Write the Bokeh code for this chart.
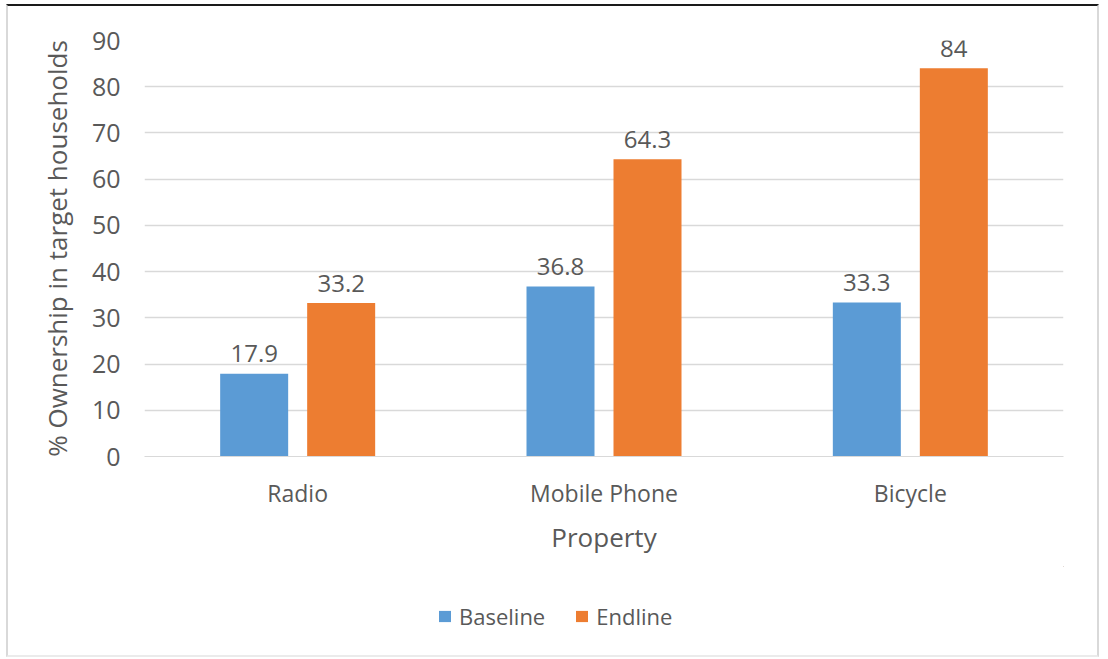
from bokeh.plotting import figure
from bokeh.models import ColumnDataSource, FactorRange, SingleIntervalTicker, Legend, LegendItem, Range1d
from bokeh.layouts import column
from bokeh.transform import dodge
from bokeh.core.properties import value
from bokeh.embed import file_html
from bokeh.resources import INLINE

categories = ["Radio", "Mobile Phone", "Bicycle"]
baseline = [17.9, 36.8, 33.3]
endline = [33.2, 64.3, 84]
series_names = ["Baseline", "Endline"]
colors = ["#5b9bd5", "#ed7d31"]

src = ColumnDataSource(dict(
    cat=categories,
    baseline=baseline,
    endline=endline,
    baseline_lbl=[f"{v:g}" for v in baseline],
    endline_lbl=[f"{v:g}" for v in endline],
))

FONT = "Open Sans"
GREY = "#595959"

p = figure(
    x_range=FactorRange(*categories, range_padding=0),
    y_range=Range1d(0, 90),
    width=1089, height=560,
    output_backend="svg", toolbar_location=None,
    min_border_left=136, min_border_right=34, min_border_top=34, min_border_bottom=110,
)
p.outline_line_color = None
p.background_fill_color = "white"
p.border_fill_color = "white"

off = 0.142
bw = 0.222
r1 = p.vbar(x=dodge("cat", -off, range=p.x_range), top="baseline", width=bw, source=src,
            fill_color=colors[0], line_color=None)
r2 = p.vbar(x=dodge("cat", off, range=p.x_range), top="endline", width=bw, source=src,
            fill_color=colors[1], line_color=None)

p.text(x=dodge("cat", -off, range=p.x_range), y="baseline", text="baseline_lbl", source=src,
       text_font=value(FONT), text_font_size="24px", text_color=GREY,
       text_align="center", text_baseline="alphabetic", y_offset=-20)
p.text(x=dodge("cat", off, range=p.x_range), y="endline", text="endline_lbl", source=src,
       text_font=value(FONT), text_font_size="24px", text_color=GREY,
       text_align="center", text_baseline="alphabetic", y_offset=-20)

# grid
p.xgrid.grid_line_color = None
p.ygrid.grid_line_color = "#d9d9d9"
p.ygrid.grid_line_width = 1.5
p.yaxis.ticker = SingleIntervalTicker(interval=10)

# axes
for ax in (p.xaxis[0], p.yaxis[0]):
    ax.axis_line_color = None
    ax.major_tick_line_color = None
    ax.minor_tick_line_color = None
    ax.major_label_text_font = FONT
    ax.major_label_text_color = GREY
    ax.axis_label_text_font = FONT
    ax.axis_label_text_color = GREY
    ax.axis_label_text_font_style = "normal"

p.xaxis.axis_line_color = "#d9d9d9"
p.xaxis.major_label_text_font_size = "23px"
p.xaxis.major_label_standoff = 14
p.xaxis.axis_label = "Property"
p.xaxis.axis_label_text_font_size = "26px"
p.xaxis.axis_label_standoff = 7

p.yaxis.major_label_text_font_size = "25px"
p.yaxis.major_label_standoff = 18
p.yaxis.axis_label = "% Ownership in target households"
p.yaxis.axis_label_text_font_size = "26px"
p.yaxis.axis_label_standoff = 14

# legend strip (its bars lie outside its view, only the legend shows)
p2 = figure(width=1089, height=89, output_backend="svg", toolbar_location=None,
            x_axis_type=None, y_axis_type=None,
            x_range=Range1d(-1000, -999), y_range=Range1d(-1000, -999),
            min_border_left=0, min_border_right=0, min_border_top=0, min_border_bottom=0)
p2.outline_line_color = None
p2.border_fill_color = "white"
p2.xgrid.grid_line_color = None
p2.ygrid.grid_line_color = None
l1 = p2.vbar(x="baseline", top="baseline", width=1, source=src,
             fill_color=colors[0], line_color=None)
l2 = p2.vbar(x="endline", top="endline", width=1, source=src,
             fill_color=colors[1], line_color=None)

legend = Legend(
    items=[LegendItem(label=series_names[0], renderers=[l1]),
           LegendItem(label=series_names[1], renderers=[l2])],
    orientation="horizontal",
    location=(293, 24),
    glyph_width=15, glyph_height=14,
    label_standoff=7, spacing=29,
    padding=0, margin=0,
    border_line_color=None, background_fill_alpha=0,
    label_text_font=FONT, label_text_font_size="22px", label_text_color=GREY,
    label_height=26,
)
p2.add_layout(legend, "center")

layout = column(p, p2, spacing=0)
layout.styles = {
    "margin-left": "6px", "margin-top": "4px",
    "border-top": "2px solid #1a1a1a",
    "border-left": "2px solid #d9d9d9",
    "border-right": "2px solid #d9d9d9",
    "border-bottom": "2px solid #ebebeb",
}

open("out.html", "w").write(file_html(layout, INLINE))
